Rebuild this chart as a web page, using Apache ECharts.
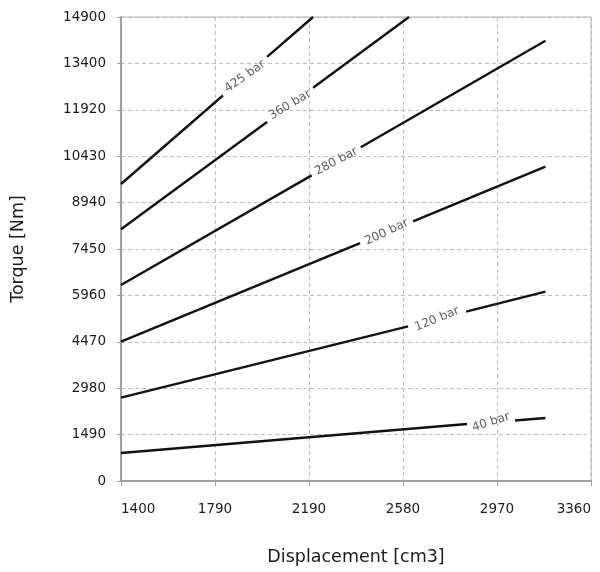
<!DOCTYPE html>
<html>
<head>
<meta charset="utf-8">
<script src="https://cdn.jsdelivr.net/npm/echarts@6/dist/echarts.min.js"></script>
<style>
  html, body { margin: 0; padding: 0; background: #ffffff; }
  #chart { width: 600px; height: 572px; }
</style>
</head>
<body>
<div id="chart"></div>
<script>
// ---- data ----
const xTickLabels = ['1400', '1790', '2190', '2580', '2970', '3360'];
const yTickLabels = ['0', '1490', '2980', '4470', '5960', '7450', '8940', '10430', '11920', '13400', '14900'];
const seriesNames = ['425 bar', '360 bar', '280 bar', '200 bar', '120 bar', '40 bar'];

// each line: start, end of left piece, gap, start of right piece, end
const line425 = [[1400, 9537], [1825, 12380], ['-', '-'], [2009, 13620], [2201, 14900]];
const line360 = [[1400, 8082], [2009, 11530], ['-', '-'], [2201, 12630], [2601, 14900]];
const line280 = [[1400, 6294], [2195, 9815], ['-', '-'], [2400, 10720], [3170, 14139]];
const line200 = [[1400, 4473], [2397, 7640], ['-', '-'], [2618, 8335], [3170, 10093]];
const line120 = [[1400, 2675], [2597, 4965], ['-', '-'], [2839, 5440], [3170, 6079]];
const line40  = [[1400, 899],  [2843, 1830], ['-', '-'], [3043, 1945], [3170, 2023]];
const lines = [line425, line360, line280, line200, line120, line40];

// label anchor points (middle of each gap)
const labelAnchors = [[1917, 12990], [2105, 12080], [2298, 10265], [2508, 7990], [2718, 5200], [2943, 1888]];

// ---- styles ----
const labelRotate = [35, 31, 28, 25, 22, 18];
const FONT = 'DejaVu Sans';

const chart = echarts.init(document.getElementById('chart'), null, { renderer: 'canvas' });

const lineSeries = lines.map((d, i) => ({
  name: seriesNames[i],
  type: 'line',
  xAxisIndex: 0,
  yAxisIndex: 0,
  data: d,
  showSymbol: false,
  symbol: 'none',
  connectNulls: false,
  lineStyle: { color: '#111111', width: 2.4 },
  silent: true
}));

const labelSeries = {
  type: 'scatter',
  xAxisIndex: 0,
  yAxisIndex: 0,
  symbolSize: 0,
  silent: true,
  data: labelAnchors.map((p, i) => ({
    name: seriesNames[i],
    value: p,
    label: { rotate: labelRotate[i] }
  })),
  label: {
    show: true,
    position: 'inside',
    formatter: '{b}',
    color: '#333333',
    fontFamily: FONT,
    fontSize: 12
  }
};

const option = {
  animation: false,
  backgroundColor: '#ffffff',
  grid: {
    left: 121, top: 17, width: 470, height: 464,
    containLabel: false,
    outerBoundsMode: 'none',
    show: true, borderColor: '#b0b0b0', borderWidth: 1, backgroundColor: 'transparent'
  },
  xAxis: [
    {
      type: 'value', min: 1400, max: 3360, show: false, position: 'top',
      splitLine: { show: false }
    },
    {
      type: 'value', min: 0, max: 5, interval: 1, position: 'bottom',
      name: 'Displacement [cm3]',
      nameLocation: 'middle',
      nameGap: 67,
      nameTextStyle: { fontFamily: FONT, fontSize: 17.5, color: '#1a1a1a' },
      axisLine: { show: true, onZero: false, lineStyle: { color: '#a0a0a0', width: 2 } },
      axisTick: { show: true, length: 5, lineStyle: { color: '#a0a0a0' } },
      axisLabel: {
        margin: 21,
        color: '#1a1a1a',
        fontFamily: FONT,
        fontSize: 13.5,
        alignMinLabel: 'left',
        alignMaxLabel: 'right',
        formatter: v => xTickLabels[Math.round(v)]
      },
      splitLine: { show: true, lineStyle: { color: '#bdbdbd', width: 1, type: [4, 3] } }
    }
  ],
  yAxis: [{
    type: 'value', min: 0, max: 14900, interval: 1490,
    name: 'Torque [Nm]',
    nameLocation: 'middle',
    nameGap: 94,
    nameTextStyle: { fontFamily: FONT, fontSize: 17.5, color: '#1a1a1a' },
    axisLine: { show: true, onZero: false, lineStyle: { color: '#a0a0a0', width: 2 } },
    axisTick: { show: true, length: 4, lineStyle: { color: '#a0a0a0' } },
    axisLabel: {
      margin: 15,
      color: '#1a1a1a',
      fontFamily: FONT,
      fontSize: 13.5,
      formatter: v => yTickLabels[Math.round(v / 1490)]
    },
    splitLine: { show: true, lineStyle: { color: '#bdbdbd', width: 1, type: [4, 3] } }
  }],
  series: lineSeries.concat([labelSeries])
};

chart.setOption(option);
</script>
</body>
</html>
